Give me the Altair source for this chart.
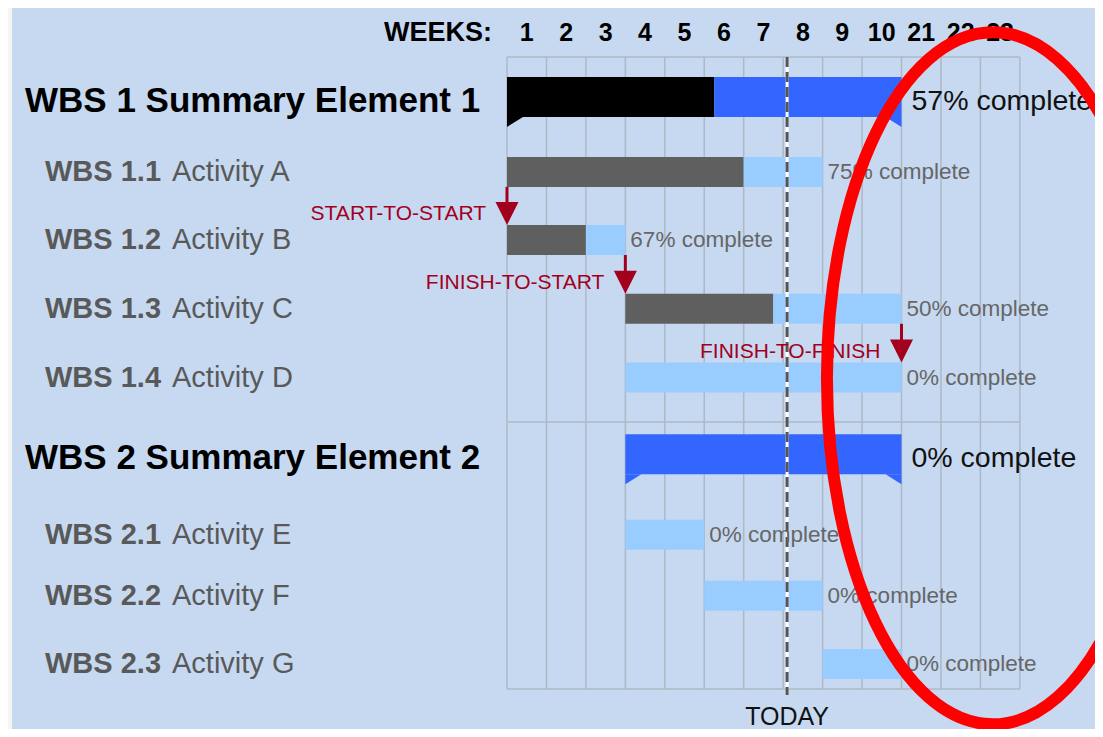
import altair as alt
import pandas as pd

# ---------------- data ----------------
row_codes = ["WBS 1", "WBS 1.1", "WBS 1.2", "WBS 1.3", "WBS 1.4",
             "WBS 2", "WBS 2.1", "WBS 2.2", "WBS 2.3"]
row_names = ["Summary Element 1", "Activity A", "Activity B", "Activity C", "Activity D",
             "Summary Element 2", "Activity E", "Activity F", "Activity G"]
row_kind = ["summary", "task", "task", "task", "task",
            "summary", "task", "task", "task"]
row_lane = [0, 1.02, 2.0, 2.99, 3.98, 5.14, 6.24, 7.12, 8.1]
start_week = [0, 0, 0, 3, 3, 3, 3, 5, 8]
end_week = [10, 8, 3, 10, 10, 10, 5, 8, 10]
done_week = [5.25, 6, 2, 6.75, 3, 3, 3, 5, 8]
percent_complete = [57, 75, 67, 50, 0, 0, 0, 0, 0]

week_labels = ["1", "2", "3", "4", "5", "6", "7", "8", "9", "10", "21", "22", "23"]

dep_labels = ["START-TO-START", "FINISH-TO-START", "FINISH-TO-FINISH"]
dep_from = [1, 2, 3]
dep_to = [2, 3, 4]
dep_week = [0, 3, 10]

today_week = [7.1]
frame_lanes = [-0.633, 4.62, 8.46]      # top border, group separator, bottom border
highlight_center = [12.32, 3.99]        # week, lane of the red ellipse

# ---------------- tables built from the lists ----------------
rows = pd.DataFrame({
    "code": row_codes, "name": row_names, "kind": row_kind, "lane": row_lane,
    "start": start_week, "end": end_week, "done": done_week, "pct": percent_complete,
})
rows["full"] = rows["code"] + " " + rows["name"]
rows["pct_text"] = rows["pct"].astype(str) + "% complete"

segs = []
for r in rows.itertuples():
    if r.done > r.start:
        segs.append({"lane": r.lane, "kind": r.kind, "x0": r.start, "x1": r.done, "seg": r.kind + "-done"})
    if r.end > r.done:
        segs.append({"lane": r.lane, "kind": r.kind, "x0": r.done, "x1": r.end, "seg": r.kind + "-todo"})
segs = pd.DataFrame(segs)

summ = rows[rows.kind == "summary"]
notch_left = pd.DataFrame({
    "lane": summ.lane, "x": summ.start,
    "seg": ["summary-done" if d > s else "summary-todo" for d, s in zip(summ.done, summ.start)],
})
notch_right = pd.DataFrame({
    "lane": summ.lane, "x": summ.end,
    "seg": ["summary-done" if d >= e else "summary-todo" for d, e in zip(summ.done, summ.end)],
})

deps = pd.DataFrame({
    "label": dep_labels,
    "week": dep_week,
    "lane_from": [row_lane[i] for i in dep_from],
    "lane_to": [row_lane[i] for i in dep_to],
})

weeks = pd.DataFrame({"label": week_labels, "mid": [i + 0.5 for i in range(len(week_labels))]})
vgrid = pd.DataFrame({"week": list(range(len(week_labels) + 1)),
                      "top": frame_lanes[0], "bottom": frame_lanes[2]})
hgrid = pd.DataFrame({"lane": frame_lanes, "x0": 0, "x1": len(week_labels)})
today = pd.DataFrame({"week": today_week, "top": frame_lanes[0], "bottom": frame_lanes[2]})
ellipse = pd.DataFrame({"week": [highlight_center[0]], "lane": [highlight_center[1]]})
one = pd.DataFrame({"k": [0]})

# ---------------- scales / styles ----------------
W, H = 1087, 721
FONT = "Liberation Sans"
xs = alt.Scale(domain=[-12.649, 14.905], nice=False, zero=False)
ys = alt.Scale(domain=[-1.3381, 9.036], nice=False, zero=False, reverse=True)
color_scale = alt.Scale(domain=["summary-done", "summary-todo", "task-done", "task-todo"],
                        range=["#000000", "#3366FF", "#5F5F5F", "#99CCFF"])
ARROW = "#A3001E"
GRID = "#AEB8C6"
LABEL_GRAY = "#595959"


def X(f):
    return alt.X(f, type="quantitative", scale=xs, axis=None)


def Y(f):
    return alt.Y(f, type="quantitative", scale=ys, axis=None)


layers = []

# whitish strip on the far left
layers.append(alt.Chart(one).mark_rect(color="#F6F5F1").encode(
    x=alt.value(0), x2=alt.value(4), y=alt.value(0), y2=alt.value(H)))

# grid
layers.append(alt.Chart(vgrid).mark_rule(color=GRID, strokeWidth=1.5).encode(
    x=X("week"), y=Y("top"), y2=alt.Y2("bottom")))
layers.append(alt.Chart(hgrid).mark_rule(color=GRID, strokeWidth=1.5).encode(
    x=X("x0"), x2=alt.X2("x1"), y=Y("lane")))

# bars
layers.append(alt.Chart(segs[segs.kind == "task"]).mark_rect(yOffset=-15, y2Offset=15).encode(
    x=X("x0"), x2=alt.X2("x1"), y=Y("lane"), y2=alt.Y2("lane"),
    color=alt.Color("seg:N", scale=color_scale, legend=None)))
layers.append(alt.Chart(segs[segs.kind == "summary"]).mark_rect(yOffset=-24, y2Offset=16).encode(
    x=X("x0"), x2=alt.X2("x1"), y=Y("lane"), y2=alt.Y2("lane"),
    color=alt.Color("seg:N", scale=color_scale, legend=None)))
layers.append(alt.Chart(notch_left).mark_point(
    shape="M0,0L0,1.25L2,0Z", size=256, filled=True, opacity=1, strokeWidth=0, yOffset=16).encode(
    x=X("x"), y=Y("lane"), color=alt.Color("seg:N", scale=color_scale, legend=None)))
layers.append(alt.Chart(notch_right).mark_point(
    shape="M0,0L0,1.25L-2,0Z", size=256, filled=True, opacity=1, strokeWidth=0, yOffset=16).encode(
    x=X("x"), y=Y("lane"), color=alt.Color("seg:N", scale=color_scale, legend=None)))

# today line
layers.append(alt.Chart(today).mark_rule(color="#FFFFFF", strokeWidth=3, y2Offset=6).encode(
    x=X("week"), y=Y("top"), y2=alt.Y2("bottom")))
layers.append(alt.Chart(today).mark_rule(color="#555555", strokeWidth=3, strokeDash=[10, 5], y2Offset=6).encode(
    x=X("week"), y=Y("top"), y2=alt.Y2("bottom")))
layers.append(alt.Chart(today).mark_text(text="TODAY", font=FONT, fontSize=25, color="#111111",
                                         align="center", baseline="middle").encode(
    x=X("week"), y=alt.value(709)))

# percent labels
layers.append(alt.Chart(rows[rows.kind == "task"]).mark_text(
    font=FONT, fontSize=22.5, color="#666666", align="left", baseline="middle", dx=5).encode(
    x=X("end"), y=Y("lane"), text="pct_text:N"))
layers.append(alt.Chart(rows[rows.kind == "summary"]).mark_text(
    font=FONT, fontSize=28.5, color="#111111", align="left", baseline="middle", dx=10).encode(
    x=X("end"), y=Y("lane"), text="pct_text:N"))

# row labels
layers.append(alt.Chart(rows[rows.kind == "summary"]).mark_text(
    font=FONT, fontSize=35, fontWeight="bold", color="#000000", align="left", baseline="middle").encode(
    x=alt.value(17), y=Y("lane"), text="full:N"))
layers.append(alt.Chart(rows[rows.kind == "task"]).mark_text(
    font=FONT, fontSize=29, fontWeight="bold", color=LABEL_GRAY, align="left", baseline="middle").encode(
    x=alt.value(37), y=Y("lane"), text="code:N"))
layers.append(alt.Chart(rows[rows.kind == "task"]).mark_text(
    font=FONT, fontSize=29, color=LABEL_GRAY, align="left", baseline="middle").encode(
    x=alt.value(164), y=Y("lane"), text="name:N"))

# header
layers.append(alt.Chart(one).mark_text(
    text="WEEKS:", font=FONT, fontSize=27, fontWeight="bold", color="#000000",
    align="right", baseline="middle").encode(x=alt.value(484), y=alt.value(25)))
layers.append(alt.Chart(weeks).mark_text(
    font=FONT, fontSize=25, fontWeight="bold", color="#000000", align="center", baseline="middle").encode(
    x=X("mid"), y=alt.value(25), text="label:N"))

# dependency arrows
layers.append(alt.Chart(deps).mark_rule(color=ARROW, strokeWidth=3, yOffset=15, y2Offset=-34).encode(
    x=X("week"), y=Y("lane_from"), y2=alt.Y2("lane_to")))
layers.append(alt.Chart(deps).mark_point(
    shape="M-1,-2L1,-2L0,0Z", size=529, filled=True, opacity=1, strokeWidth=0, color=ARROW, yOffset=-15).encode(
    x=X("week"), y=Y("lane_to")))
layers.append(alt.Chart(deps).mark_text(
    font=FONT, fontSize=21, color=ARROW, align="right", baseline="middle", dx=-21, dy=-26).encode(
    x=X("week"), y=Y("lane_to"), text="label:N"))

# red highlight ellipse
ell_path = ("M0.48,0 C0.48,0.5523 0.2651,1 0,1 C-0.2651,1 -0.48,0.5523 -0.48,0 "
            "C-0.48,-0.5523 -0.2651,-1 0,-1 C0.2651,-1 0.48,-0.5523 0.48,0 Z")
layers.append(alt.Chart(ellipse).mark_point(
    shape=ell_path, size=478864, filled=False, opacity=1, color="#FF0000", strokeWidth=12).encode(
    x=X("week"), y=Y("lane")))

chart = alt.layer(*layers).properties(
    width=W, height=H, background="#C6D9F1", padding=0,
    autosize=alt.AutoSizeParams(type="none"),
).configure_view(strokeWidth=0)

chart.save("out.html", embed_options={"renderer": "svg", "actions": False})
